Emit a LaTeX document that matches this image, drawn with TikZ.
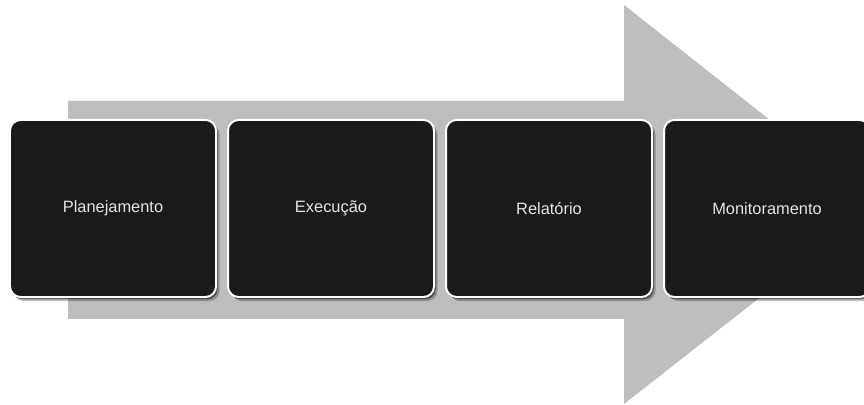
\documentclass[tikz,border=0pt]{standalone}
\usepackage{fontspec}
\setmainfont{Liberation Sans}
\usetikzlibrary{positioning,shadows}
\definecolor{arrowgray}{RGB}{190,190,190}
\definecolor{boxblack}{RGB}{26,26,26}
\definecolor{labelgray}{RGB}{228,228,228}

\begin{document}
\begin{tikzpicture}[x=0.03cm,y=-0.03cm,
  stage/.style={rectangle, draw=white, line width=1.7pt, fill=boxblack,
    rounded corners=9pt, minimum width=6.18cm, minimum height=5.31cm,
    inner sep=0pt, outer sep=0pt, text=labelgray,
    font=\fontsize{14}{16}\selectfont,
    general shadow={shadow xshift=3pt, shadow yshift=-3.5pt, opacity=0.25, fill=black},
    drop shadow={shadow xshift=1.5pt, shadow yshift=-2pt, opacity=0.45, fill=black}}]
% Frame
\clip (0,0) rectangle (864,405);

% Big arrow behind the stages
\fill[arrowgray] (68,101) -- (624,101) -- (624,5) -- (878,205)
  -- (624,404) -- (624,319) -- (68,319) -- cycle;

% Stages
\node[stage] (plan) at (113,208.5) {Planejamento};
\node[stage, right=0.36cm of plan] (exec) {Execução};
\node[stage, right=0.36cm of exec] (rel) {Relatório};
\node[stage, right=0.36cm of rel] (mon) {Monitoramento};
\end{tikzpicture}
\end{document}
